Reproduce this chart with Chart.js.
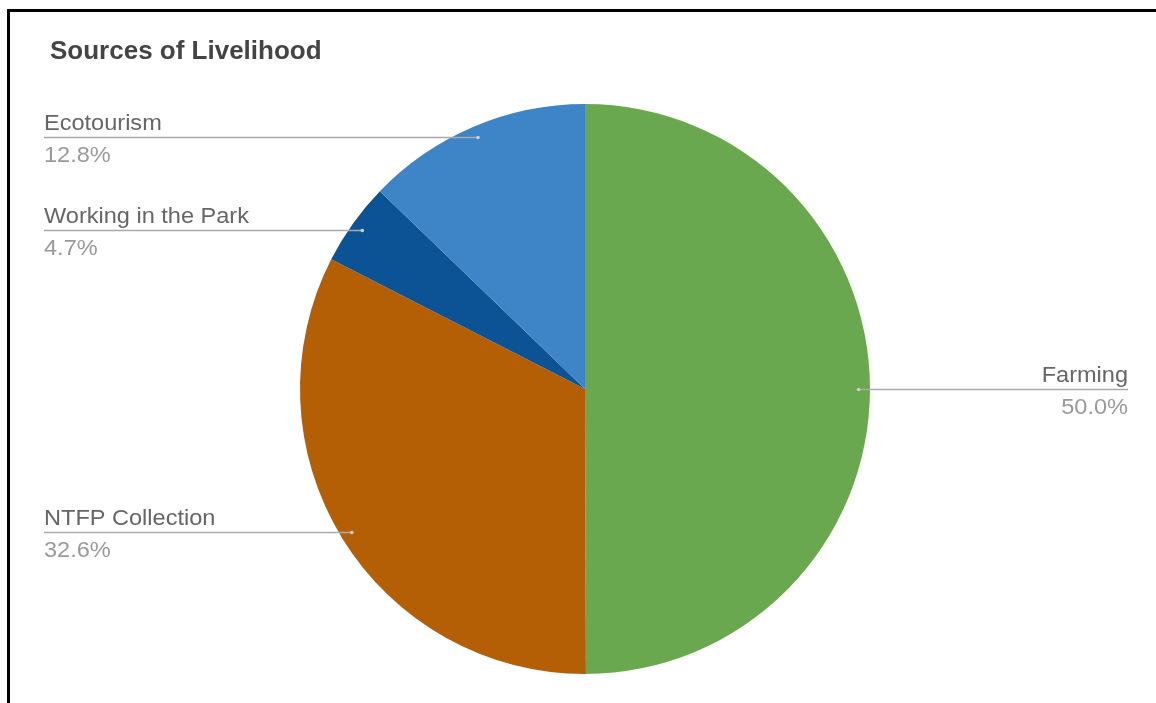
<!DOCTYPE html>
<html>
<head>
<meta charset="utf-8">
<title>Sources of Livelihood</title>
<script src="https://cdn.jsdelivr.net/npm/chart.js@4.4.1/dist/chart.umd.min.js"></script>
<style>
  html, body { margin: 0; padding: 0; background: #fff; }
  body { width: 1156px; height: 703px; position: relative; overflow: hidden; }
  .frame { position: absolute; left: 7px; top: 9px; right: -10px; bottom: -10px;
           border-top: 3px solid #000; border-left: 3px solid #000; }
  #myChart { position: absolute; left: 0; top: 0; }
</style>
</head>
<body>
<div class="frame"></div>
<canvas id="myChart" width="1156" height="703"></canvas>
<script>
const chartTitle = 'Sources of Livelihood';
const categories = ['Farming', 'NTFP Collection', 'Working in the Park', 'Ecotourism'];
const shares = [50.0, 32.6, 4.7, 12.8];
const sliceColors = ['#6aa84f', '#b45f06', '#0b5394', '#3d85c6'];

// text drawn slightly wider than the font's natural width
function drawText(ctx, text, x, y, align, stretch) {
  ctx.save();
  ctx.translate(x, y);
  ctx.scale(stretch, 1);
  ctx.textAlign = align;
  ctx.fillText(text, 0, 0);
  ctx.restore();
}

const leaderLabels = {
  id: 'leaderLabels',
  afterDraw(chart) {
    const ctx = chart.ctx;
    const meta = chart.getDatasetMeta(0);

    ctx.save();
    ctx.textBaseline = 'alphabetic';
    ctx.fillStyle = '#444';
    ctx.font = 'bold 25px "Liberation Sans", Arial, sans-serif';
    drawText(ctx, chartTitle, 50, 59, 'left', 1.04);

    meta.data.forEach((arc, i) => {
      const mid = (arc.startAngle + arc.endAngle) / 2;
      const r = arc.outerRadius * 0.96;
      const dotX = arc.x + Math.cos(mid) * r;
      const dotY = Math.round(arc.y + Math.sin(mid) * r) + 0.5;
      const right = Math.cos(mid) >= 0;
      const textX = right ? 1128 : 44;
      const align = right ? 'right' : 'left';

      ctx.strokeStyle = '#aaaaaa';
      ctx.lineWidth = 1.5;
      ctx.beginPath();
      ctx.moveTo(dotX, dotY);
      ctx.lineTo(textX, dotY);
      ctx.stroke();

      ctx.fillStyle = '#cfcfcf';
      ctx.beginPath();
      ctx.arc(dotX, dotY, 1.8, 0, Math.PI * 2);
      ctx.fill();

      ctx.font = '22px "Liberation Sans", Arial, sans-serif';
      ctx.fillStyle = '#666';
      drawText(ctx, categories[i], textX, dotY - 8, align, 1.07);
      ctx.fillStyle = '#9a9a9a';
      drawText(ctx, shares[i].toFixed(1) + '%', textX, dotY + 24, align, 1.07);
    });
    ctx.restore();
  }
};

const myChart = new Chart(document.getElementById('myChart'), {
  type: 'pie',
  data: {
    labels: categories,
    datasets: [{
      data: shares,
      backgroundColor: sliceColors,
      borderWidth: 0
    }]
  },
  options: {
    responsive: false,
    animation: false,
    events: [],
    layout: {
      padding: { left: 300, right: 286, top: 104, bottom: 29 }
    },
    plugins: {
      legend: { display: false },
      title: { display: false },
      tooltip: { enabled: false }
    }
  },
  plugins: [leaderLabels]
});
</script>
</body>
</html>
